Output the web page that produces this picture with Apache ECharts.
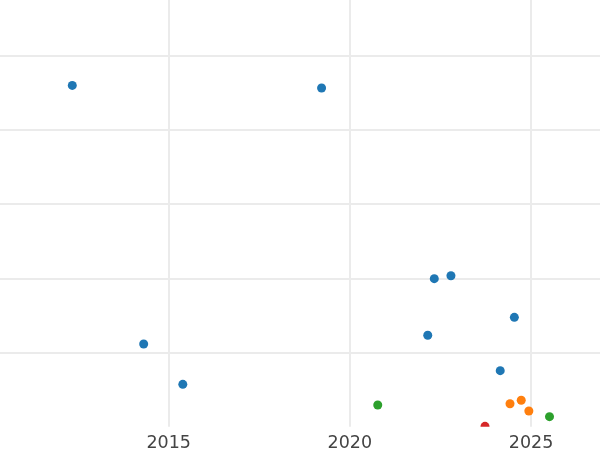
<!DOCTYPE html>
<html>
<head>
<meta charset="utf-8">
<script src="https://cdn.jsdelivr.net/npm/echarts@6/dist/echarts.min.js"></script>
<style>
html,body{margin:0;padding:0;background:#fff;width:600px;height:450px;overflow:hidden;position:relative;}
#c{position:absolute;left:-13px;top:-19px;width:760px;height:480px;}
</style>
</head>
<body>
<div id="c"></div>
<script>
// Data (x: year, y: value in grid-step units)
const xTickYears = [2015, 2020, 2025];
const blueX = [2012.34, 2019.22, 2014.31, 2015.39, 2022.33, 2022.79, 2024.54, 2022.15, 2024.15];
const blueY = [4.60, 4.565, 1.115, 0.571, 1.995, 2.035, 1.474, 1.232, 0.755];
const orangeX = [2024.42, 2024.73, 2024.94];
const orangeY = [0.31, 0.356, 0.212];
const greenX = [2020.77, 2025.51];
const greenY = [0.292, 0.135];
const redX = [2023.73];
const redY = [0.005];

const seriesDefs = [
  { name: 'blue', xs: blueX, ys: blueY, color: '#1f77b4' },
  { name: 'orange', xs: orangeX, ys: orangeY, color: '#ff7f0e' },
  { name: 'green', xs: greenX, ys: greenY, color: '#2ca02c' },
  { name: 'red', xs: redX, ys: redY, color: '#d62728' }
];

const chart = echarts.init(document.getElementById('c'), null, { renderer: 'canvas' });
const gridColor = '#ebebeb';
chart.setOption({
  animation: false,
  backgroundColor: '#ffffff',
  grid: { left: 0.5, right: 34.8, top: 0.5, bottom: 34.3, containLabel: false, outerBoundsMode: 'none' },
  xAxis: {
    type: 'value', min: 2010, max: 2030, interval: 5,
    axisLine: { show: false }, axisTick: { show: false },
    axisLabel: {
      showMinLabel: false, margin: 8,
      fontFamily: 'DejaVu Sans', fontSize: 17.5, color: '#444444',
      formatter: v => (xTickYears.indexOf(v) >= 0 ? String(v) : '')
    },
    splitLine: { show: true, lineStyle: { color: gridColor, width: 2 } }
  },
  yAxis: {
    type: 'value', min: 0, max: 6, interval: 1,
    axisLine: { show: false }, axisTick: { show: false },
    axisLabel: { show: false },
    splitLine: { show: true, lineStyle: { color: ['rgba(0,0,0,0)', gridColor, gridColor, gridColor, gridColor, gridColor, gridColor], width: 2 } }
  },
  series: seriesDefs.map(s => ({
    type: 'custom', name: s.name, clip: true,
    data: s.xs.map((x, i) => [x, s.ys[i]]),
    encode: { x: 0, y: 1 },
    renderItem: (params, api) => {
      const p = api.coord([api.value(0), api.value(1)]);
      return { type: 'circle', shape: { cx: p[0], cy: p[1], r: 4.5 }, style: { fill: s.color } };
    }
  }))
});
</script>
</body>
</html>
